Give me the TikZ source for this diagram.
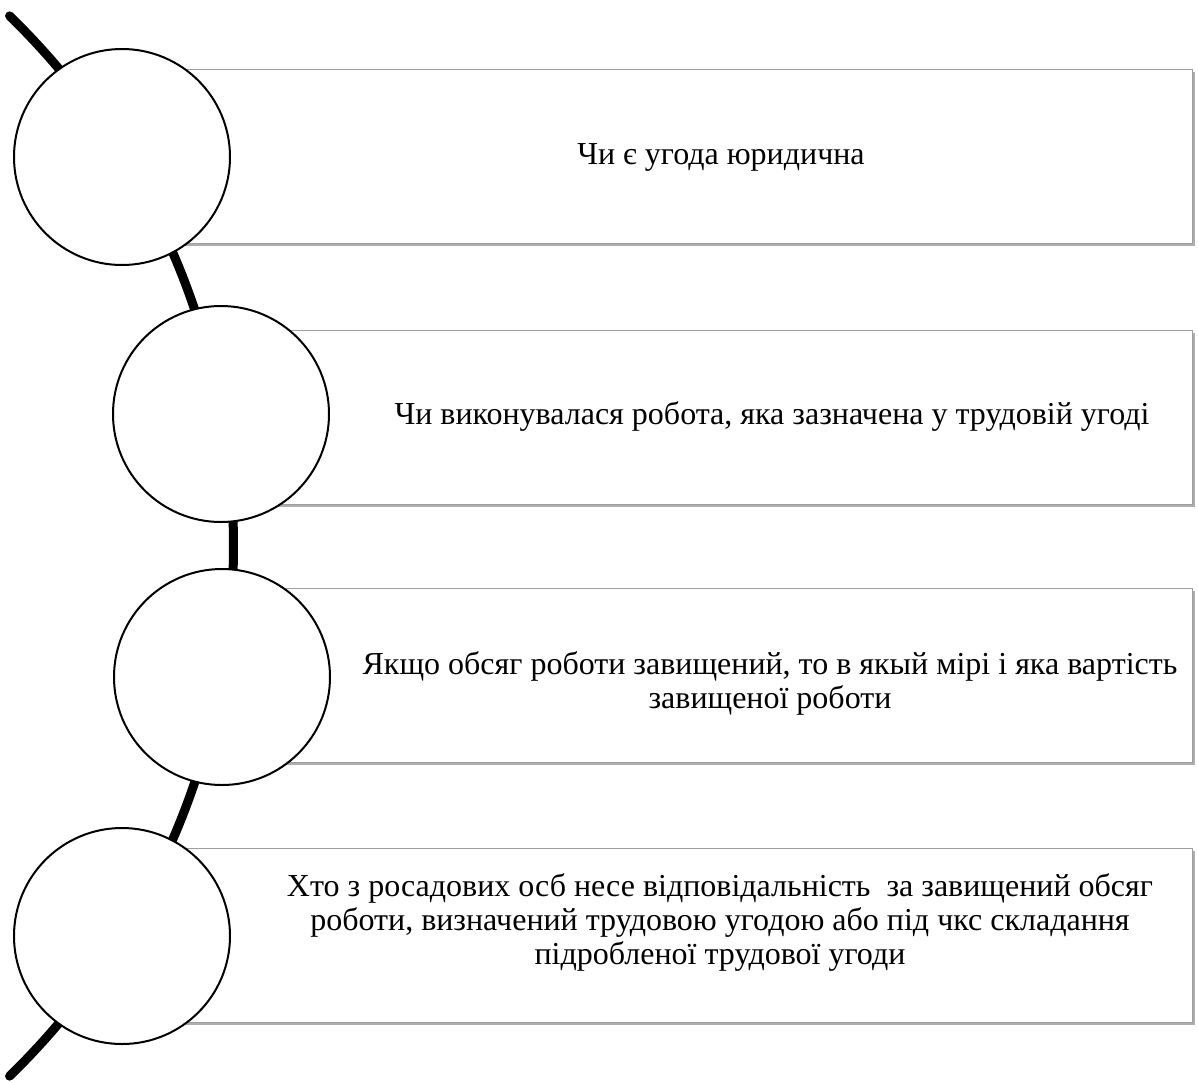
\documentclass[tikz,border=0pt]{standalone}
\usepackage{fontspec}
\setmainfont{Liberation Serif}
\usetikzlibrary{shadows}
\begin{document}
\begin{tikzpicture}[x=1pt,y=1pt,
  stagebox/.style={draw=black!38, line width=1.4pt, fill=white,
    minimum height=174pt, anchor=north west, inner sep=0pt,
    drop shadow={shadow xshift=2pt, shadow yshift=-2.5pt, fill=black!45, opacity=0.7}},
  bubble/.style={circle, draw=black, line width=2pt, fill=white,
    minimum size=216pt, inner sep=0pt},
  boxtext/.style={font=\fontsize{32}{34}\selectfont, align=center, inner sep=0pt}
]
\fill[white] (0,0) rectangle (1198,-1082);
\useasboundingbox (0,0) rectangle (1198,-1082);

% timeline arc through the circle centres
\draw[line width=9pt, line cap=round]
  (-506,-546) ++(45.8:739.5) arc[start angle=45.8, end angle=-45.8, radius=739.5];

% text panels
\node[stagebox, minimum width=1070pt] (b1) at (122,-69) {};
\node[stagebox, minimum width=971pt]  (b2) at (221,-330) {};
\node[stagebox, minimum width=970pt]  (b3) at (222,-588) {};
\node[stagebox, minimum width=1070pt] (b4) at (122,-848) {};

% circles on the arc
\node[bubble] (c1) at (122,-157) {};
\node[bubble] (c2) at (221,-414) {};
\node[bubble] (c3) at (222,-677) {};
\node[bubble] (c4) at (122,-936) {};

% panel texts
\node[boxtext] (t1) at (721,-157) {Чи є угода юридична};
\node[boxtext] (t2) at (772,-416) {Чи виконувалася робота, яка зазначена у трудовій угоді};
\node[boxtext] (t3) at (770,-683) {Якщо обсяг роботи завищений, то в якый мірі і яка вартість\\завищеної роботи};
\node[boxtext] (t4) at (720,-922) {Хто з росадових осб несе відповідальність\ \ за завищений обсяг\\роботи, визначений трудовою угодою або під чкс складання\\підробленої трудової угоди};
\end{tikzpicture}
\end{document}
